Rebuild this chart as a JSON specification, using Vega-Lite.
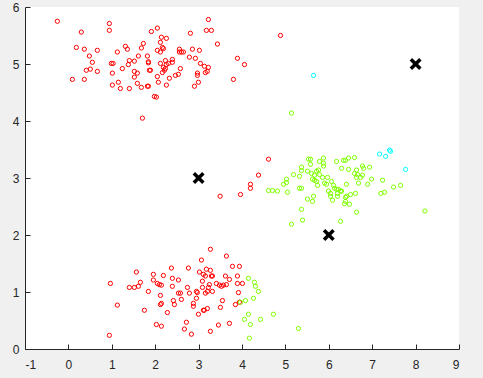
{
  "$schema": "https://vega.github.io/schema/vega-lite/v6.json",
  "width": 434,
  "height": 342,
  "autosize": {"type": "none"},
  "padding": {"left": 25, "top": 7, "right": 24, "bottom": 29},
  "background": "#f0f0f0",
  "title": {"text": "Iteration number 1", "fontSize": 11, "font": "Liberation Sans", "fontWeight": "bold", "color": "#262626", "offset": 4},
  "config": {
    "view": {"fill": "white", "stroke": null},
    "axis": {"grid": false, "domainColor": "#262626", "tickColor": "#262626", "labelColor": "#262626", "labelFont": "Liberation Sans", "labelFontSize": 12, "tickSize": -5, "title": null, "labelExpr": "datum.value + ''"},
    "axisX": {"labelPadding": 15},
    "axisY": {"labelPadding": 11}
  },
  "datasets": {
    "pts": [
      {"x":-0.255,"y":5.75,"k":"1"},{"x":0.944,"y":5.71,"k":"1"},{"x":0.944,"y":5.59,"k":"1"},{"x":0.298,"y":5.56,"k":"1"},{"x":0.183,"y":5.29,"k":"1"},{"x":0.367,"y":5.26,"k":"1"},{"x":0.667,"y":5.24,"k":"1"},{"x":0.483,"y":5.14,"k":"1"},{"x":0.552,"y":5.03,"k":"1"},{"x":0.413,"y":4.89,"k":"1"},{"x":0.506,"y":4.91,"k":"1"},{"x":0.667,"y":4.87,"k":"1"},{"x":0.091,"y":4.73,"k":"1"},{"x":0.367,"y":4.73,"k":"1"},{"x":0.99,"y":5.01,"k":"1"},{"x":1.03,"y":5.01,"k":"1"},{"x":1.013,"y":4.84,"k":"1"},{"x":1.013,"y":4.63,"k":"1"},{"x":1.128,"y":5.21,"k":"1"},{"x":1.151,"y":4.68,"k":"1"},{"x":1.197,"y":4.57,"k":"1"},{"x":1.243,"y":4.92,"k":"1"},{"x":1.313,"y":5.31,"k":"1"},{"x":1.359,"y":5.26,"k":"1"},{"x":1.405,"y":5.06,"k":"1"},{"x":1.382,"y":4.99,"k":"1"},{"x":1.405,"y":4.57,"k":"1"},{"x":1.52,"y":5.05,"k":"1"},{"x":1.52,"y":4.87,"k":"1"},{"x":1.52,"y":4.77,"k":"1"},{"x":1.589,"y":4.84,"k":"1"},{"x":1.589,"y":4.66,"k":"1"},{"x":1.612,"y":5.14,"k":"1"},{"x":1.681,"y":5.28,"k":"1"},{"x":1.728,"y":5.36,"k":"1"},{"x":1.681,"y":4.59,"k":"1"},{"x":1.82,"y":5.14,"k":"1"},{"x":1.843,"y":5.02,"k":"1"},{"x":1.843,"y":5.04,"k":"1"},{"x":1.866,"y":4.89,"k":"1"},{"x":1.89,"y":4.89,"k":"1"},{"x":1.82,"y":4.61,"k":"1"},{"x":1.843,"y":4.61,"k":"1"},{"x":1.912,"y":5.57,"k":"1"},{"x":2.05,"y":5.63,"k":"1"},{"x":1.981,"y":4.43,"k":"1"},{"x":2.027,"y":4.42,"k":"1"},{"x":1.705,"y":4.05,"k":"1"},{"x":2.05,"y":5.24,"k":"1"},{"x":2.143,"y":5.47,"k":"1"},{"x":2.258,"y":5.45,"k":"1"},{"x":2.12,"y":5.38,"k":"1"},{"x":2.166,"y":5.29,"k":"1"},{"x":2.19,"y":5.27,"k":"1"},{"x":2.12,"y":5.21,"k":"1"},{"x":2.12,"y":5.01,"k":"1"},{"x":2.235,"y":5.06,"k":"1"},{"x":2.258,"y":4.99,"k":"1"},{"x":2.189,"y":4.94,"k":"1"},{"x":2.235,"y":4.92,"k":"1"},{"x":2.212,"y":4.89,"k":"1"},{"x":2.166,"y":4.85,"k":"1"},{"x":2.05,"y":4.78,"k":"1"},{"x":2.073,"y":4.68,"k":"1"},{"x":2.327,"y":4.75,"k":"1"},{"x":2.258,"y":4.63,"k":"1"},{"x":2.396,"y":5.08,"k":"1"},{"x":2.396,"y":5.03,"k":"1"},{"x":2.304,"y":5.01,"k":"1"},{"x":2.466,"y":4.8,"k":"1"},{"x":2.535,"y":4.82,"k":"1"},{"x":2.581,"y":4.92,"k":"1"},{"x":2.558,"y":5.26,"k":"1"},{"x":2.558,"y":5.21,"k":"1"},{"x":2.604,"y":5.21,"k":"1"},{"x":2.65,"y":5.21,"k":"1"},{"x":2.811,"y":5.54,"k":"1"},{"x":2.857,"y":5.26,"k":"1"},{"x":2.788,"y":5.12,"k":"1"},{"x":2.926,"y":5.1,"k":"1"},{"x":3.019,"y":5.24,"k":"1"},{"x":2.973,"y":4.84,"k":"1"},{"x":2.973,"y":4.8,"k":"1"},{"x":2.996,"y":4.68,"k":"1"},{"x":2.904,"y":4.61,"k":"1"},{"x":3.042,"y":5.01,"k":"1"},{"x":3.134,"y":4.96,"k":"1"},{"x":3.226,"y":4.94,"k":"1"},{"x":3.157,"y":4.85,"k":"1"},{"x":3.2,"y":4.87,"k":"1"},{"x":3.18,"y":5.59,"k":"1"},{"x":3.295,"y":5.59,"k":"1"},{"x":3.226,"y":5.78,"k":"1"},{"x":3.434,"y":5.35,"k":"1"},{"x":3.895,"y":5.1,"k":"1"},{"x":3.803,"y":4.73,"k":"1"},{"x":4.887,"y":5.5,"k":"1"},{"x":4.057,"y":4.99,"k":"1"},
      {"x":4.61,"y":3.33,"k":"1"},{"x":4.38,"y":3.05,"k":"1"},{"x":4.195,"y":2.89,"k":"1"},{"x":4.195,"y":2.82,"k":"1"},{"x":3.965,"y":2.71,"k":"1"},{"x":3.496,"y":2.68,"k":"1"},
      {"x":0.967,"y":1.15,"k":"1"},{"x":1.128,"y":0.77,"k":"1"},{"x":0.944,"y":0.24,"k":"1"},{"x":1.405,"y":1.08,"k":"1"},{"x":1.52,"y":1.08,"k":"1"},{"x":1.612,"y":1.1,"k":"1"},{"x":1.659,"y":1.17,"k":"1"},{"x":1.566,"y":1.35,"k":"1"},{"x":1.751,"y":0.68,"k":"1"},{"x":1.843,"y":1.01,"k":"1"},{"x":1.958,"y":1.31,"k":"1"},{"x":1.958,"y":1.21,"k":"1"},{"x":2.05,"y":1.15,"k":"1"},{"x":2.096,"y":1.13,"k":"1"},{"x":2.143,"y":1.12,"k":"1"},{"x":2.189,"y":1.29,"k":"1"},{"x":2.12,"y":0.94,"k":"1"},{"x":2.12,"y":0.78,"k":"1"},{"x":2.143,"y":0.8,"k":"1"},{"x":2.281,"y":0.64,"k":"1"},{"x":2.027,"y":0.43,"k":"1"},{"x":2.143,"y":0.4,"k":"1"},{"x":2.373,"y":1.42,"k":"1"},{"x":2.396,"y":1.24,"k":"1"},{"x":2.396,"y":1.1,"k":"1"},{"x":2.419,"y":0.85,"k":"1"},{"x":2.442,"y":0.78,"k":"1"},{"x":2.535,"y":1.21,"k":"1"},{"x":2.535,"y":0.98,"k":"1"},{"x":2.581,"y":0.98,"k":"1"},{"x":2.604,"y":0.87,"k":"1"},{"x":2.719,"y":0.47,"k":"1"},{"x":2.673,"y":0.35,"k":"1"},{"x":2.834,"y":0.26,"k":"1"},{"x":2.742,"y":1.08,"k":"1"},{"x":2.765,"y":1.42,"k":"1"},{"x":2.788,"y":0.98,"k":"1"},{"x":2.88,"y":0.8,"k":"1"},{"x":2.88,"y":0.75,"k":"1"},{"x":2.95,"y":1.01,"k":"1"},{"x":2.97,"y":0.99,"k":"1"},{"x":2.95,"y":0.89,"k":"1"},{"x":2.996,"y":0.61,"k":"1"},{"x":3.019,"y":1.35,"k":"1"},{"x":3.065,"y":1.56,"k":"1"},{"x":3.088,"y":1.19,"k":"1"},{"x":3.111,"y":1.31,"k":"1"},{"x":3.157,"y":1.28,"k":"1"},{"x":3.088,"y":1.08,"k":"1"},{"x":3.111,"y":0.68,"k":"1"},{"x":3.13,"y":0.68,"k":"1"},{"x":3.157,"y":0.98,"k":"1"},{"x":3.203,"y":1.01,"k":"1"},{"x":3.226,"y":1.08,"k":"1"},{"x":3.18,"y":1.4,"k":"1"},{"x":3.203,"y":0.71,"k":"1"},{"x":3.249,"y":1.13,"k":"1"},{"x":3.272,"y":1.75,"k":"1"},{"x":3.272,"y":1.38,"k":"1"},{"x":3.295,"y":1.28,"k":"1"},{"x":3.318,"y":1.28,"k":"1"},{"x":3.318,"y":1.01,"k":"1"},{"x":3.272,"y":0.31,"k":"1"},{"x":3.41,"y":1.15,"k":"1"},{"x":3.48,"y":1.12,"k":"1"},{"x":3.526,"y":1.1,"k":"1"},{"x":3.572,"y":1.12,"k":"1"},{"x":3.641,"y":1.13,"k":"1"},{"x":3.711,"y":1.22,"k":"1"},{"x":3.618,"y":1.28,"k":"1"},{"x":3.641,"y":1.63,"k":"1"},{"x":3.78,"y":1.45,"k":"1"},{"x":3.941,"y":1.45,"k":"1"},{"x":3.895,"y":1.28,"k":"1"},{"x":3.895,"y":1.15,"k":"1"},{"x":4.01,"y":1.15,"k":"1"},{"x":3.918,"y":0.99,"k":"1"},{"x":3.549,"y":0.85,"k":"1"},{"x":3.503,"y":0.73,"k":"1"},{"x":3.849,"y":0.78,"k":"1"},{"x":3.941,"y":0.82,"k":"1"},{"x":3.711,"y":0.45,"k":"1"},{"x":3.457,"y":0.42,"k":"1"},
      {"x":4.149,"y":1.24,"k":"2"},{"x":4.287,"y":1.17,"k":"2"},{"x":4.31,"y":1.1,"k":"2"},{"x":4.379,"y":1.01,"k":"2"},{"x":4.08,"y":0.85,"k":"2"},{"x":4.264,"y":0.89,"k":"2"},{"x":3.965,"y":0.82,"k":"2"},{"x":4.149,"y":0.61,"k":"2"},{"x":4.057,"y":0.52,"k":"2"},{"x":4.195,"y":0.43,"k":"2"},{"x":4.426,"y":0.52,"k":"2"},{"x":4.725,"y":0.61,"k":"2"},{"x":4.172,"y":0.19,"k":"2"},{"x":5.302,"y":0.36,"k":"2"},{"x":5.14,"y":4.14,"k":"2"},
      {"x":5.532,"y":3.33,"k":"2"},{"x":5.578,"y":3.33,"k":"2"},{"x":5.878,"y":3.35,"k":"2"},{"x":5.878,"y":3.26,"k":"2"},{"x":5.878,"y":3.21,"k":"2"},{"x":5.786,"y":3.29,"k":"2"},{"x":5.578,"y":3.24,"k":"2"},{"x":5.371,"y":3.19,"k":"2"},{"x":5.371,"y":3.13,"k":"2"},{"x":5.509,"y":3.12,"k":"2"},{"x":5.186,"y":3.06,"k":"2"},{"x":5.325,"y":3.03,"k":"2"},{"x":5.025,"y":2.98,"k":"2"},{"x":5.025,"y":2.92,"k":"2"},{"x":4.956,"y":2.89,"k":"2"},{"x":4.61,"y":2.78,"k":"2"},{"x":4.702,"y":2.78,"k":"2"},{"x":4.817,"y":2.77,"k":"2"},{"x":5.048,"y":2.75,"k":"2"},{"x":5.325,"y":2.82,"k":"2"},{"x":5.371,"y":2.82,"k":"2"},{"x":5.509,"y":2.63,"k":"2"},{"x":5.648,"y":2.68,"k":"2"},{"x":5.624,"y":2.59,"k":"2"},{"x":5.371,"y":2.45,"k":"2"},{"x":5.394,"y":2.26,"k":"2"},{"x":5.14,"y":2.19,"k":"2"},{"x":5.601,"y":3.08,"k":"2"},{"x":5.671,"y":3.05,"k":"2"},{"x":5.717,"y":3.12,"k":"2"},{"x":5.763,"y":3.14,"k":"2"},{"x":5.786,"y":3.06,"k":"2"},{"x":5.624,"y":2.98,"k":"2"},{"x":5.671,"y":2.96,"k":"2"},{"x":5.717,"y":2.94,"k":"2"},{"x":5.74,"y":2.87,"k":"2"},{"x":5.855,"y":3.01,"k":"2"},{"x":5.97,"y":3.01,"k":"2"},{"x":5.901,"y":2.91,"k":"2"},{"x":5.947,"y":2.89,"k":"2"},{"x":6.063,"y":2.94,"k":"2"},{"x":6.109,"y":2.87,"k":"2"},{"x":6.132,"y":2.82,"k":"2"},{"x":5.993,"y":2.77,"k":"2"},{"x":6.04,"y":2.73,"k":"2"},{"x":6.04,"y":2.68,"k":"2"},{"x":6.086,"y":2.61,"k":"2"},{"x":6.178,"y":2.8,"k":"2"},{"x":6.224,"y":2.8,"k":"2"},{"x":6.27,"y":2.77,"k":"2"},{"x":6.2,"y":2.73,"k":"2"},{"x":6.2,"y":2.68,"k":"2"},{"x":6.293,"y":2.77,"k":"2"},{"x":6.385,"y":2.66,"k":"2"},{"x":6.408,"y":2.68,"k":"2"},{"x":6.385,"y":2.59,"k":"2"},{"x":6.478,"y":2.54,"k":"2"},{"x":6.501,"y":2.71,"k":"2"},{"x":6.616,"y":2.73,"k":"2"},{"x":6.639,"y":2.4,"k":"2"},{"x":6.27,"y":2.24,"k":"2"},{"x":6.408,"y":2.89,"k":"2"},{"x":6.178,"y":3.29,"k":"2"},{"x":6.339,"y":3.31,"k":"2"},{"x":6.385,"y":3.31,"k":"2"},{"x":6.455,"y":3.35,"k":"2"},{"x":6.593,"y":3.36,"k":"2"},{"x":6.293,"y":3.17,"k":"2"},{"x":6.455,"y":3.15,"k":"2"},{"x":6.639,"y":3.14,"k":"2"},{"x":6.593,"y":3.08,"k":"2"},{"x":6.662,"y":3.06,"k":"2"},{"x":6.639,"y":3.01,"k":"2"},{"x":6.777,"y":3.21,"k":"2"},{"x":6.8,"y":3.17,"k":"2"},{"x":6.777,"y":3.05,"k":"2"},{"x":6.939,"y":3.19,"k":"2"},{"x":6.685,"y":2.91,"k":"2"},{"x":6.893,"y":2.89,"k":"2"},{"x":6.985,"y":2.98,"k":"2"},{"x":7.239,"y":2.96,"k":"2"},{"x":7.2,"y":2.73,"k":"2"},{"x":7.284,"y":2.75,"k":"2"},{"x":7.492,"y":2.84,"k":"2"},{"x":7.654,"y":2.87,"k":"2"},{"x":8.215,"y":2.42,"k":"2"},{"x":6.731,"y":3.01,"k":"2"},{"x":6.362,"y":2.55,"k":"2"},
      {"x":5.648,"y":4.8,"k":"3"},{"x":7.169,"y":3.42,"k":"3"},{"x":7.308,"y":3.38,"k":"3"},{"x":7.4,"y":3.49,"k":"3"},{"x":7.423,"y":3.47,"k":"3"},{"x":7.769,"y":3.15,"k":"3"}
    ],
    "cent": [
      {"x":3,"y":3},{"x":6,"y":2},{"x":8,"y":5}
    ]
  },
  "layer": [
    {
      "data": {"name": "pts"},
      "mark": {"type": "point", "shape": "circle", "filled": false, "size": 18, "strokeWidth": 1, "opacity": 1},
      "encoding": {
        "x": {"field": "x", "type": "quantitative", "scale": {"domain": [-1, 9], "nice": false, "zero": false}, "axis": {"values": [-1,0,1,2,3,4,5,6,7,8,9]}},
        "y": {"field": "y", "type": "quantitative", "scale": {"domain": [0, 6], "nice": false, "zero": false}, "axis": {"values": [0,1,2,3,4,5,6]}},
        "color": {"field": "k", "type": "nominal", "scale": {"domain": ["1","2","3"], "range": ["#ff0000","#80ff00","#00ffff"]}, "legend": null}
      }
    },
    {
      "data": {"name": "cent"},
      "mark": {"type": "point", "shape": "M-1,-1L1,1M1,-1L-1,1", "filled": false, "size": 90, "strokeWidth": 3.5, "color": "black", "opacity": 1},
      "encoding": {
        "x": {"field": "x", "type": "quantitative"},
        "y": {"field": "y", "type": "quantitative"}
      }
    }
  ]
}
